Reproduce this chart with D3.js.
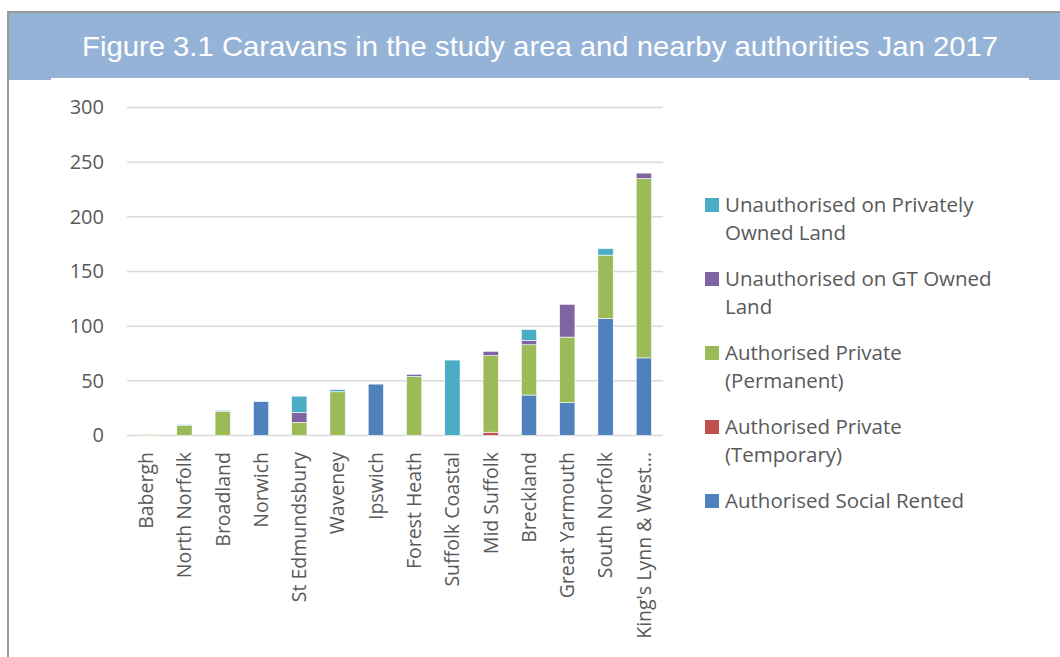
<!DOCTYPE html>
<html>
<head>
<meta charset="utf-8">
<script src="https://cdn.jsdelivr.net/npm/d3@7/dist/d3.min.js"></script>
<style>
  body { margin: 0; background: #fff; }
  svg { display: block; }
</style>
</head>
<body>
<svg width="1060" height="657"></svg>
<script>
let categories = ["Babergh", "North Norfolk", "Broadland", "Norwich", "St Edmundsbury",
  "Waveney", "Ipswich", "Forest Heath", "Suffolk Coastal", "Mid Suffolk",
  "Breckland", "Great Yarmouth", "South Norfolk", "King's Lynn & West..."];

// series, bottom of the stack first
let socialRented     = [0, 0, 0, 31, 0, 0, 47, 0, 0, 0, 37, 30, 107, 71];
let privateTemporary = [0, 0, 0, 0, 0, 0, 0, 0, 0, 3, 0, 0, 0, 0];
let privatePermanent = [1, 9, 22, 0, 12, 40, 0, 54, 0, 70, 46, 60, 58, 164];
let unauthGTLand     = [0, 0, 0, 0, 9, 0, 0, 2, 0, 4, 4, 30, 0, 5];
let unauthPrivLand   = [0, 1, 1, 0, 15, 2, 0, 0, 69, 0, 10, 0, 6, 0];

let seriesNames = ["Authorised Social Rented", "Authorised Private (Temporary)",
  "Authorised Private (Permanent)", "Unauthorised on GT Owned Land",
  "Unauthorised on Privately Owned Land"];
let seriesValues = [socialRented, privateTemporary, privatePermanent, unauthGTLand, unauthPrivLand];
let seriesColors = ["#4f81bd", "#c0504d", "#9bbb59", "#8064a2", "#4bacc6"];

// legend lines, top to bottom (index into the series arrays)
let legendRows = [
  { s: 4, lines: ["Unauthorised on Privately", "Owned Land"] },
  { s: 3, lines: ["Unauthorised on GT Owned", "Land"] },
  { s: 2, lines: ["Authorised Private", "(Permanent)"] },
  { s: 1, lines: ["Authorised Private", "(Temporary)"] },
  { s: 0, lines: ["Authorised Social Rented"] }
];
let yTicks = [0, 50, 100, 150, 200, 250, 300];

let textColor = "#595959";
let font = "'Open Sans', sans-serif";

let svg = d3.select("svg");

// frame and title band
svg.append("rect").attr("x", 7).attr("y", 13).attr("width", 1053).attr("height", 67)
  .attr("fill", "#95b3d7");
svg.append("rect").attr("x", 51).attr("y", 78).attr("width", 978).attr("height", 579)
  .attr("fill", "#fff");
svg.append("line").attr("x1", 7).attr("x2", 1060).attr("y1", 12).attr("y2", 12)
  .attr("stroke", "#999").attr("stroke-width", 2);
svg.append("line").attr("x1", 8).attr("x2", 8).attr("y1", 11).attr("y2", 657)
  .attr("stroke", "#999").attr("stroke-width", 2);
svg.append("text")
  .attr("x", 540).attr("y", 56)
  .attr("text-anchor", "middle")
  .attr("fill", "#fff")
  .attr("font-family", "'Liberation Sans', Arial, sans-serif")
  .attr("font-size", 28)
  .attr("textLength", 916)
  .attr("lengthAdjust", "spacingAndGlyphs")
  .text("Figure 3.1 Caravans in the study area and nearby authorities Jan 2017");

// scales
let x = d3.scaleBand().domain(categories).range([127, 663]).paddingInner(0.6).paddingOuter(0.3);
let y = d3.scaleLinear().domain([0, 300]).range([435.5, 107.5]);

// gridlines
svg.append("g").selectAll("line").data(yTicks).enter().append("line")
  .attr("x1", 127).attr("x2", 663)
  .attr("y1", d => y(d)).attr("y2", d => y(d))
  .attr("stroke", "#d9d9d9").attr("stroke-width", 1.5);

// y axis labels
let yAxis = svg.append("g").attr("transform", "translate(110,0)")
  .call(d3.axisLeft(y).tickValues(yTicks).tickSize(0).tickPadding(6));
yAxis.select(".domain").remove();
yAxis.selectAll("text").attr("fill", textColor).attr("font-size", 20).attr("font-family", font);

// stacked bars
let rows = categories.map((c, i) => {
  let r = { cat: c };
  seriesValues.forEach((vals, s) => { r["s" + s] = vals[i]; });
  return r;
});
let stack = d3.stack().keys(seriesValues.map((v, s) => "s" + s))(rows);

svg.append("g").selectAll("g").data(stack).enter().append("g")
  .attr("fill", (d, s) => seriesColors[s])
  .selectAll("rect").data(d => d.filter(p => p[1] - p[0] > 0)).enter().append("rect")
  .attr("x", d => x(d.data.cat))
  .attr("width", x.bandwidth())
  .attr("y", d => y(d[1]))
  .attr("height", d => y(d[0]) - y(d[1]))
  .attr("stroke", "#fff").attr("stroke-width", 0.6);

// x axis category labels
let xAxis = svg.append("g").attr("transform", "translate(0,443)")
  .call(d3.axisBottom(x).tickSize(0).tickPadding(0));
xAxis.select(".domain").remove();
xAxis.selectAll("text")
  .attr("fill", textColor).attr("font-size", 19.5).attr("font-family", font)
  .attr("transform", "rotate(-90)")
  .attr("text-anchor", "end")
  .attr("x", -9).attr("y", 0).attr("dy", "0.35em");

// legend
let legend = svg.append("g").selectAll("g").data(legendRows).enter().append("g")
  .attr("transform", (d, i) => "translate(705," + (205 + i * 74) + ")");
legend.append("rect")
  .attr("x", 0).attr("y", -7).attr("width", 14).attr("height", 14)
  .attr("fill", d => seriesColors[d.s]);
legend.append("text")
  .attr("fill", textColor).attr("font-size", 20.5).attr("font-family", font)
  .selectAll("tspan").data(d => d.lines).enter().append("tspan")
  .attr("x", 20).attr("y", (d, j) => j * 28).attr("dy", "0.35em")
  .text(d => d);
</script>
</body>
</html>
